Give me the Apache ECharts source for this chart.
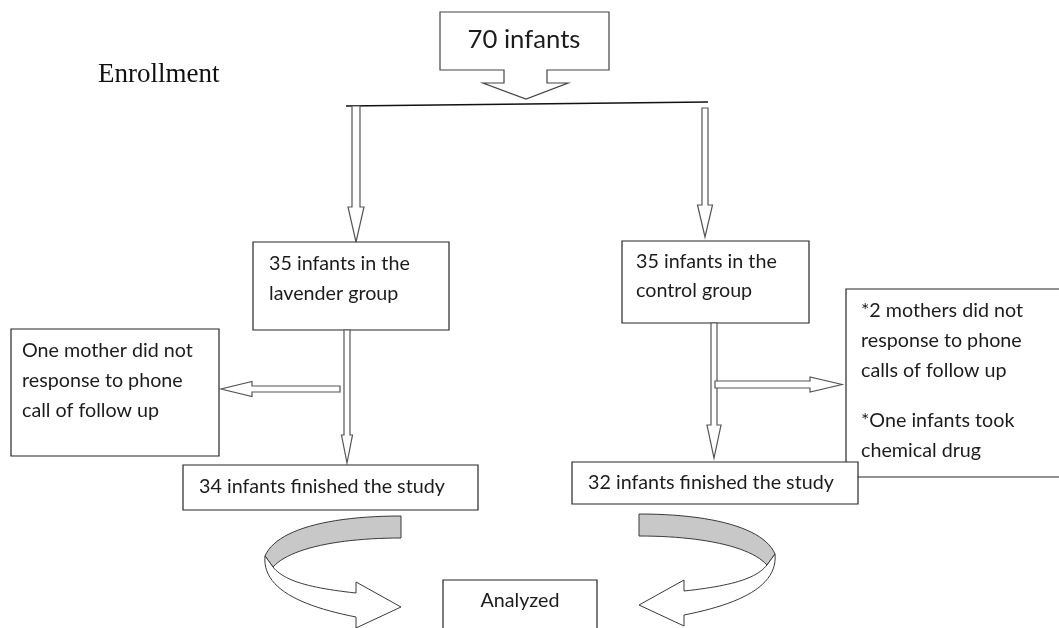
<!DOCTYPE html>
<html><head><meta charset="utf-8">
<script src="https://cdn.jsdelivr.net/npm/echarts@6/dist/echarts.min.js"></script>
<style>html,body{margin:0;padding:0;background:#fff}#c{width:1059px;height:628px}</style>
</head><body><div id="c"></div>
<script>
// ---- data (texts of the flow diagram) ----
const titleLabel = ['Enrollment'];
const totalLabel = ['70 infants'];
const lavenderGroup = ['35 infants in the', 'lavender group'];
const controlGroup = ['35 infants in the', 'control group'];
const lavenderLoss = ['One mother did not', 'response to phone', 'call of follow up'];
const controlLoss = ['*2 mothers did not', 'response to phone', 'calls of follow up', '', '*One infants took', 'chemical drug'];
const lavenderFinished = ['34 infants finished the study'];
const controlFinished = ['32 infants finished the study'];
const analyzedLabel = ['Analyzed'];

// ---- drawing ----
const FONT = 'Lato';
const cv = document.createElement('canvas').getContext('2d');
function fit(str, target) { cv.font = '100px ' + FONT; return 100 * target / cv.measureText(str).width; }
const BODY = fit(lavenderFinished[0], 246);
const BIG = fit(totalLabel[0], 113);

const STROKE = '#262626';
const ARROW = '#555555';
const TXT = '#1c1c1c';
const g = [];

function box(x0, y0, x1, y1) {
  g.push({ type: 'rect', shape: { x: x0, y: y0, width: x1 - x0, height: y1 - y0 },
    style: { fill: '#fff', stroke: STROKE, lineWidth: 1.2 } });
}
function lines(arr, x, base, lh, size, align) {
  let y = base;
  arr.forEach(t => {
    if (t === '') { y += 20; return; }
    g.push({ type: 'text', style: { text: t, x: x, y: y - 0.3 * size, font: size + 'px ' + FONT,
      fill: TXT, align: align || 'left', verticalAlign: 'middle' } });
    y += lh;
  });
}
function poly(pts, fill, stroke, lw) {
  g.push({ type: 'polygon', shape: { points: pts }, style: { fill: fill, stroke: stroke, lineWidth: lw || 1 } });
}
// cubic bezier sampled into points (p0 excluded)
function bez(p0, p1, p2, p3) {
  const out = [];
  for (let i = 1; i <= 24; i++) {
    const t = i / 24, u = 1 - t;
    out.push([u * u * u * p0[0] + 3 * u * u * t * p1[0] + 3 * u * t * t * p2[0] + t * t * t * p3[0],
              u * u * u * p0[1] + 3 * u * u * t * p1[1] + 3 * u * t * t * p2[1] + t * t * t * p3[1]]);
  }
  return out;
}
function downArrow(cx, sw, hw, y0, y1, tip) {
  poly([[cx - sw / 2, y0], [cx + sw / 2, y0], [cx + sw / 2, y1], [cx + hw / 2, y1], [cx, tip],
    [cx - hw / 2, y1], [cx - sw / 2, y1]], '#fff', ARROW, 1.2);
}
function sideArrow(cy, sw, hw, xs, xh, tip) {
  poly([[xs, cy - sw / 2], [xh, cy - sw / 2], [xh, cy - hw / 2], [tip, cy], [xh, cy + hw / 2],
    [xh, cy + sw / 2], [xs, cy + sw / 2]], '#fff', ARROW, 1.2);
}
// curved ribbon arrow: s = +1 (left side, turning left) / -1 (mirrored)
function curvedArrow(endX, s, dy) {
  const X = v => endX - s * (401 - v);
  const P = (x, y) => [X(x), y + dy];
  const back = [P(401, 516)]
    .concat(bez(P(401, 516), P(328, 516), P(276, 530), P(265, 556)))
    .concat([P(273, 567)])
    .concat(bez(P(273, 567), P(290, 548), P(340, 538), P(401, 538)));
  poly(back, '#c8c8c8', '#3a3a3a', 1);
  const front = [P(265, 556)]
    .concat(bez(P(265, 556), P(262, 588), P(300, 606), P(356, 617)))
    .concat([P(356, 628), P(401, 607), P(356, 582), P(356, 593)])
    .concat(bez(P(356, 593), P(310, 588), P(284, 581), P(273, 567)));
  poly(front, '#fff', '#3a3a3a', 1);
}

// title
g.push({ type: 'text', style: { text: titleLabel[0], x: 98, y: 83 - 0.3 * 27, font: '27px "Liberation Serif"',
  fill: '#111', verticalAlign: 'middle' } });

// top callout box
poly([[440, 12], [609, 12], [609, 70], [547, 70], [547, 83], [568, 83], [526, 99], [483, 83], [504, 83], [504, 70], [440, 70]],
  '#fff', '#444', 1.2);
lines(totalLabel, 524, 47, 30, BIG, 'center');

// split line
g.push({ type: 'line', shape: { x1: 346, y1: 106, x2: 708, y2: 102 }, style: { stroke: '#111', lineWidth: 1.3 } });

// down arrows to groups
downArrow(356, 8, 16, 106, 207, 242);
downArrow(705, 6, 15, 108, 205, 237);

// group boxes
box(253, 242, 449, 330);
lines(lavenderGroup, 269, 270, 30, BODY);
box(622, 241, 809, 323);
lines(controlGroup, 636, 268, 29, BODY);

// lavender branch
downArrow(347, 6, 11, 330, 435, 463);
sideArrow(389, 6, 15, 340, 252, 221);
box(11, 329, 219, 456);
lines(lavenderLoss, 22, 357, 30, BODY);

// control branch
downArrow(714, 6, 14, 323, 425, 458);
sideArrow(384.5, 7, 15, 715, 810, 842);
box(846, 289, 1075, 477);
lines(controlLoss, 861, 317, 30, BODY);

// finished boxes
box(183, 465, 478, 510);
lines(lavenderFinished, 199, 493, 30, BODY);
box(572, 462, 858, 504);
lines(controlFinished, 588, 489, 30, BODY);

// curved arrows
curvedArrow(401, 1, 0);
curvedArrow(639, -1, -2);

// analyzed box
box(443, 580, 597, 640);
lines(analyzedLabel, 520, 607, 30, BODY, 'center');

const chart = echarts.init(document.getElementById('c'), null, { renderer: 'canvas' });
chart.setOption({ animation: false, backgroundColor: '#fff', graphic: { elements: g } });
</script></body></html>
